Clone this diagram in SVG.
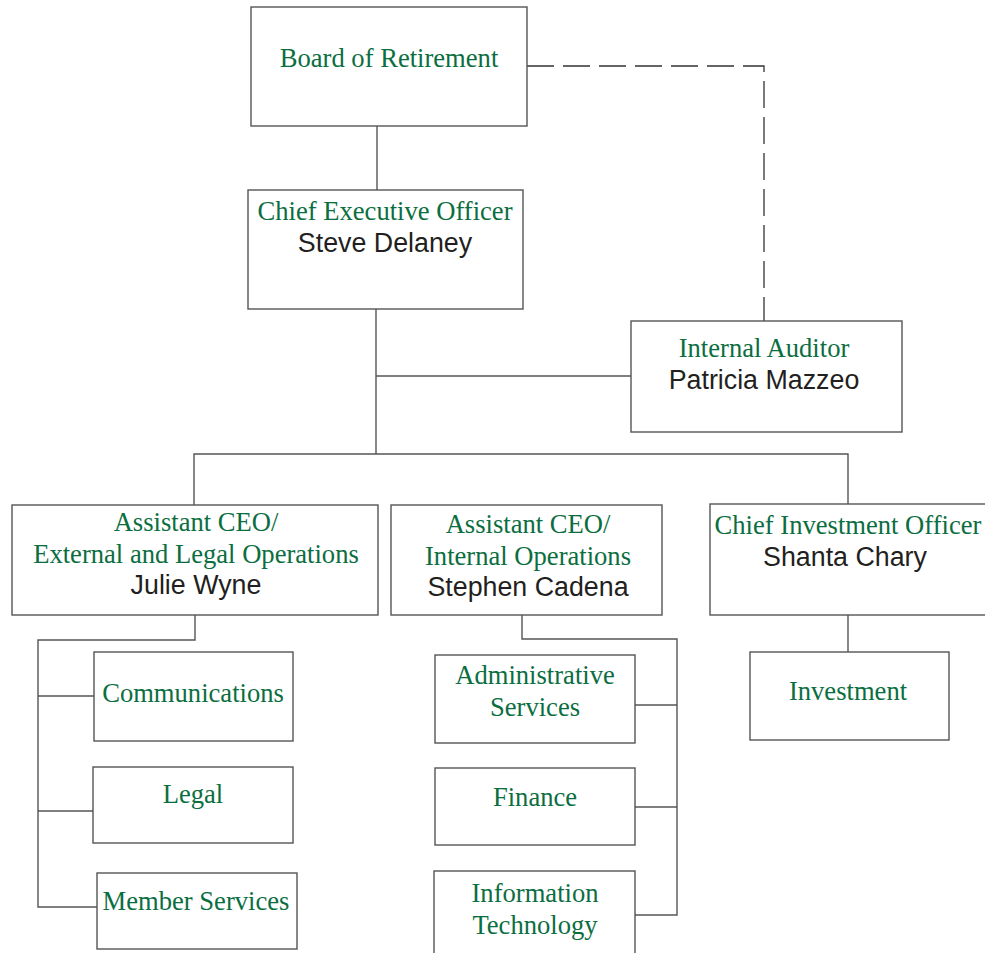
<svg xmlns="http://www.w3.org/2000/svg" width="985" height="953" viewBox="0 0 985 953">
<style>
.box{fill:#fff;stroke:#555;stroke-width:1.4}
.t{font-family:"Liberation Serif","Times New Roman",serif;font-size:26.6px;fill:#0b6e3f;text-anchor:middle}
.n{font-family:"Liberation Sans",Arial,sans-serif;font-size:26.8px;fill:#231f20;text-anchor:middle}
.c{fill:none;stroke:#555;stroke-width:1.4}
.d{fill:none;stroke:#333;stroke-width:1.3;stroke-dasharray:27 9}
</style>
<rect width="985" height="953" fill="#fff"/>
<g id="connectors">
<line class="c" x1="377" y1="126" x2="377" y2="190"/>
<polyline class="d" points="527,66 764,66 764,321"/>
<line class="c" x1="376" y1="309" x2="376" y2="454"/>
<line class="c" x1="376" y1="376" x2="631" y2="376"/>
<polyline class="c" points="194,505 194,454 848,454 848,504"/>
<polyline class="c" points="195,615 195,640 38,640 38,907 97,907"/>
<line class="c" x1="38" y1="696" x2="94" y2="696"/>
<line class="c" x1="38" y1="811" x2="93" y2="811"/>
<polyline class="c" points="522,615 522,639 677,639 677,915 635,915"/>
<line class="c" x1="635" y1="705" x2="677" y2="705"/>
<line class="c" x1="635" y1="807" x2="677" y2="807"/>
<line class="c" x1="848" y1="615" x2="848" y2="652"/>
</g>
<g id="board">
<rect class="box" x="251" y="7" width="276" height="119"/>
<text class="t" x="389" y="67">Board of Retirement</text>
</g>
<g id="ceo">
<rect class="box" x="248" y="190" width="275" height="119"/>
<text class="t" x="385" y="220">Chief Executive Officer</text>
<text class="n" x="385" y="252">Steve Delaney</text>
</g>
<g id="auditor">
<rect class="box" x="631" y="321" width="271" height="111"/>
<text class="t" x="764" y="357">Internal Auditor</text>
<text class="n" x="764" y="389">Patricia Mazzeo</text>
</g>
<g id="acex">
<rect class="box" x="12" y="505" width="366" height="110"/>
<text class="t" x="196" y="531">Assistant CEO/</text>
<text class="t" x="196" y="563">External and Legal Operations</text>
<text class="n" x="196" y="594">Julie Wyne</text>
</g>
<g id="acin">
<rect class="box" x="391" y="505" width="271" height="110"/>
<text class="t" x="528" y="533">Assistant CEO/</text>
<text class="t" x="528" y="565">Internal Operations</text>
<text class="n" x="528" y="596">Stephen Cadena</text>
</g>
<g id="cio">
<rect class="box" x="710" y="504" width="290" height="111"/>
<text class="t" x="848" y="534">Chief Investment Officer</text>
<text class="n" x="845" y="566">Shanta Chary</text>
</g>
<g id="communications">
<rect class="box" x="94" y="652" width="199" height="89"/>
<text class="t" x="193" y="702">Communications</text>
</g>
<g id="legal">
<rect class="box" x="93" y="767" width="200" height="76"/>
<text class="t" x="193" y="803">Legal</text>
</g>
<g id="member">
<rect class="box" x="97" y="873" width="200" height="76"/>
<text class="t" x="196" y="910">Member Services</text>
</g>
<g id="admin">
<rect class="box" x="435" y="655" width="200" height="88"/>
<text class="t" x="535" y="684">Administrative</text>
<text class="t" x="535" y="716">Services</text>
</g>
<g id="finance">
<rect class="box" x="435" y="768" width="200" height="77"/>
<text class="t" x="535" y="806">Finance</text>
</g>
<g id="it">
<rect class="box" x="434" y="871" width="201" height="100"/>
<text class="t" x="535" y="902">Information</text>
<text class="t" x="535" y="934">Technology</text>
</g>
<g id="investment">
<rect class="box" x="750" y="652" width="199" height="88"/>
<text class="t" x="848" y="700">Investment</text>
</g>
</svg>
